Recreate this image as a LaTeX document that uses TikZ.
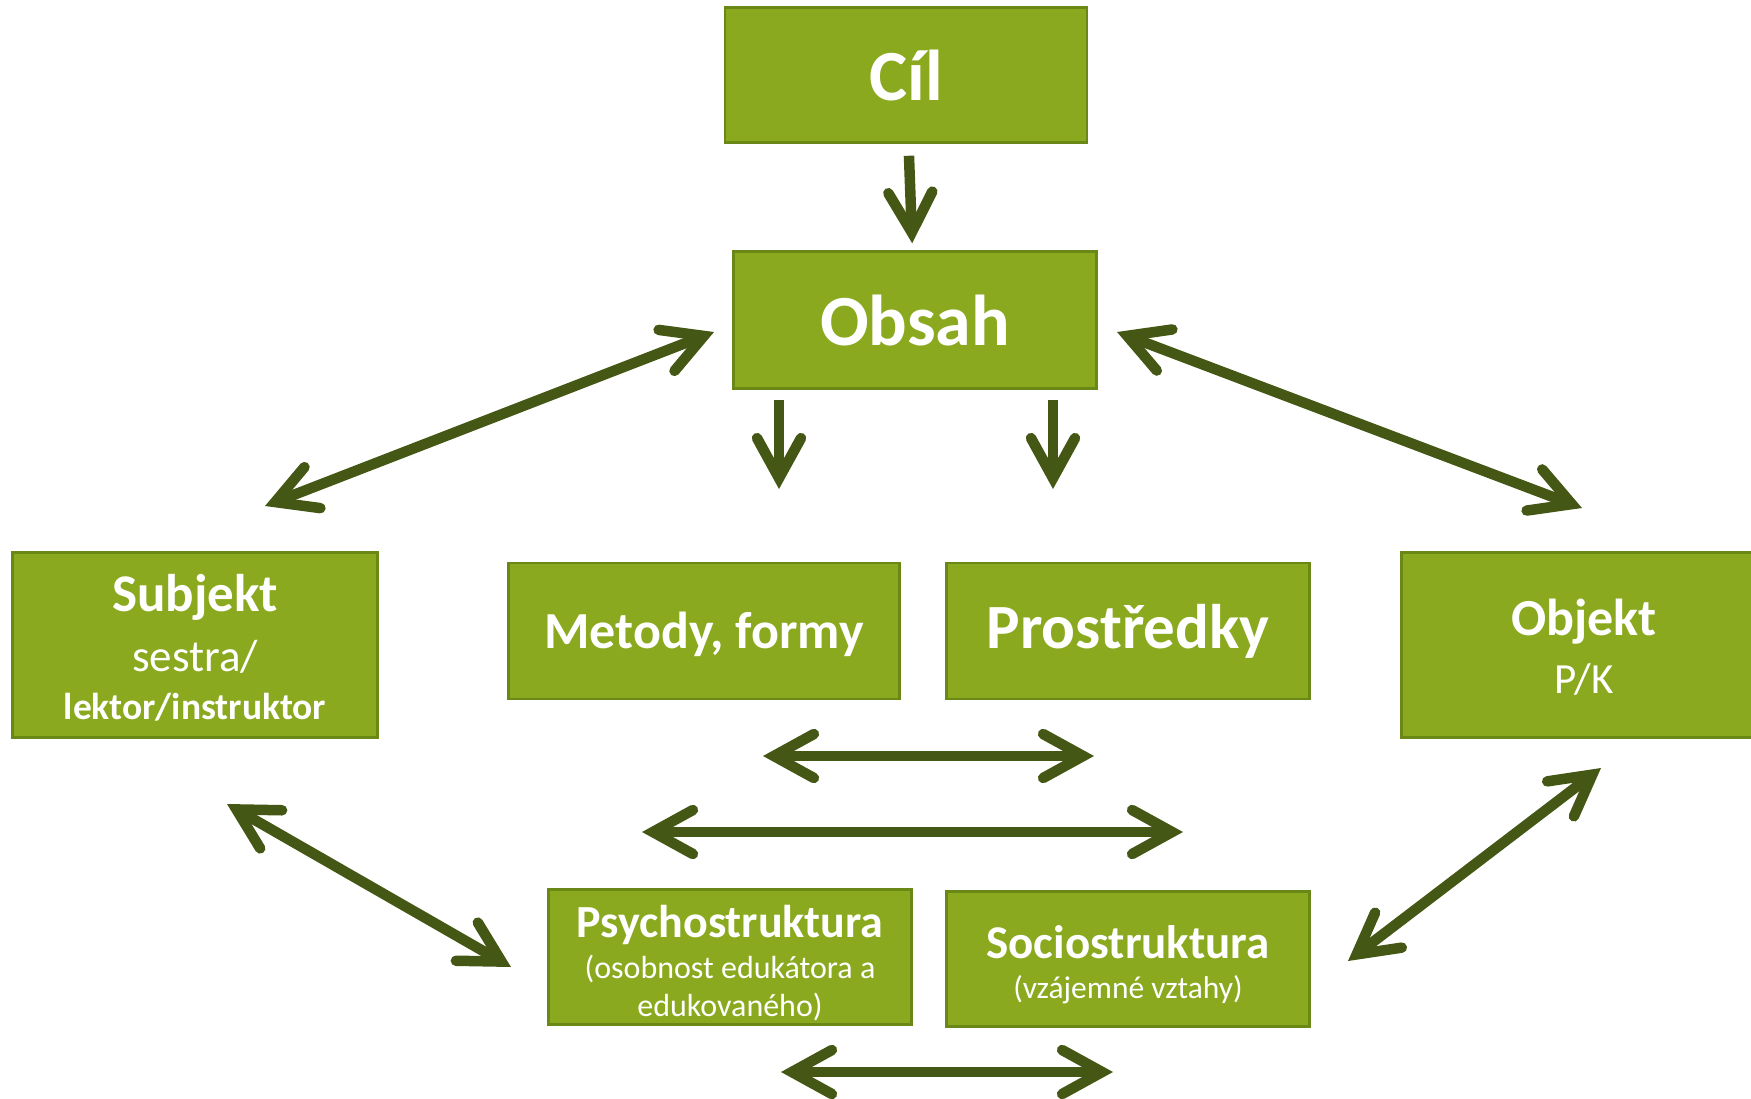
\documentclass[tikz,border=0pt]{standalone}
\usepackage{fontspec}
\setmainfont{Carlito}
\usetikzlibrary{arrows.meta}
\definecolor{boxGreen}{RGB}{138,169,30}
\definecolor{boxEdge}{RGB}{106,136,22}
\definecolor{arrowGreen}{RGB}{68,87,20}
\newcommand{\boxfont}[1]{\fontsize{#1}{#1}\selectfont}
\begin{document}
\begin{tikzpicture}
[x=1pt,y=-1pt,>={Straight Barb[length=40pt,width=44pt,line cap=round,line join=miter]},
  boxDecorate/.style={shape=rectangle,draw=boxEdge,line width=2.5pt,fill=boxGreen,
    text=white,align=center,inner sep=0pt,minimum width=363pt,minimum height=136pt},
  arrowDecorate/.style={draw=arrowGreen,line width=10.5pt}]
\useasboundingbox (0,0) rectangle (1751,1098);
%% boxes
\node (cil) at (906,75) [boxDecorate,minimum width=362pt,minimum height=135pt]
  {\boxfont{72}\bfseries Cíl};
\node (obsah) at (915,320) [boxDecorate,minimum height=137pt]
  {\boxfont{72}\bfseries Obsah};
\node (metody) at (704,631) [boxDecorate,minimum width=391pt]
  {\boxfont{52}\bfseries\rule{0pt}{44pt}Metody, formy};
\node (prostredky) at (1128,631) [boxDecorate]
  {\boxfont{63}\bfseries Prostředky};
\node (subjekt) at (195,645) [boxDecorate,minimum width=365pt,minimum height=185pt,
  font=\fontsize{40}{48}\selectfont]
  {{\boxfont{53}\bfseries\rule{0pt}{43pt}Subjekt}\\[12pt]{\boxfont{45}sestra/}\\{\boxfont{37.5}\bfseries lektor/instruktor}};
\node (objekt) at (1584,645) [boxDecorate,minimum width=365pt,minimum height=185pt,
  font=\fontsize{40}{58}\selectfont]
  {{\boxfont{52}\bfseries\rule{0pt}{41pt}Objekt}\\{\boxfont{43}P/K}};
\node (psycho) at (730,957) [boxDecorate,minimum height=135pt,
  font=\fontsize{32}{38}\selectfont]
  {{\boxfont{46}\bfseries\rule{0pt}{44pt}Psychostruktura}\\[3pt](osobnost edukátora a\\edukovaného)};
\node (socio) at (1128,959) [boxDecorate,minimum height=135pt,
  font=\fontsize{31.5}{40}\selectfont]
  {{\boxfont{47}\bfseries\rule{0pt}{44pt}Sociostruktura}\\(vzájemné vztahy)};
%% free arrow ends
\foreach \cname/\x/\y in {
  m1/779/400, m2/779/489, p1/1053/400, p2/1053/489,
  s1/714/332, s2/265/506, o1/1117/332, o2/1582/508,
  h1/763/756, h2/1094/756, l1/642/832, l2/1183/832,
  d1/227/804, d2/511/967, e1/1601/768, e2/1348/961,
  b1/781/1072, b2/1113/1072}
{
  \coordinate (\cname) at (\x,\y);
}
%% arrows
\draw[arrowDecorate,->,shorten <=12pt,shorten >=7pt] (cil) -- (obsah);
\foreach \startnode/\endnode/\tips in {
  m1/m2/->, p1/p2/->, s1/s2/<->, o1/o2/<->, h1/h2/<->,
  l1/l2/<->, d1/d2/<->, e1/e2/<->, b1/b2/<->}
{
  \draw[arrowDecorate,\tips] (\startnode) -- (\endnode);
}
\end{tikzpicture}
\end{document}
